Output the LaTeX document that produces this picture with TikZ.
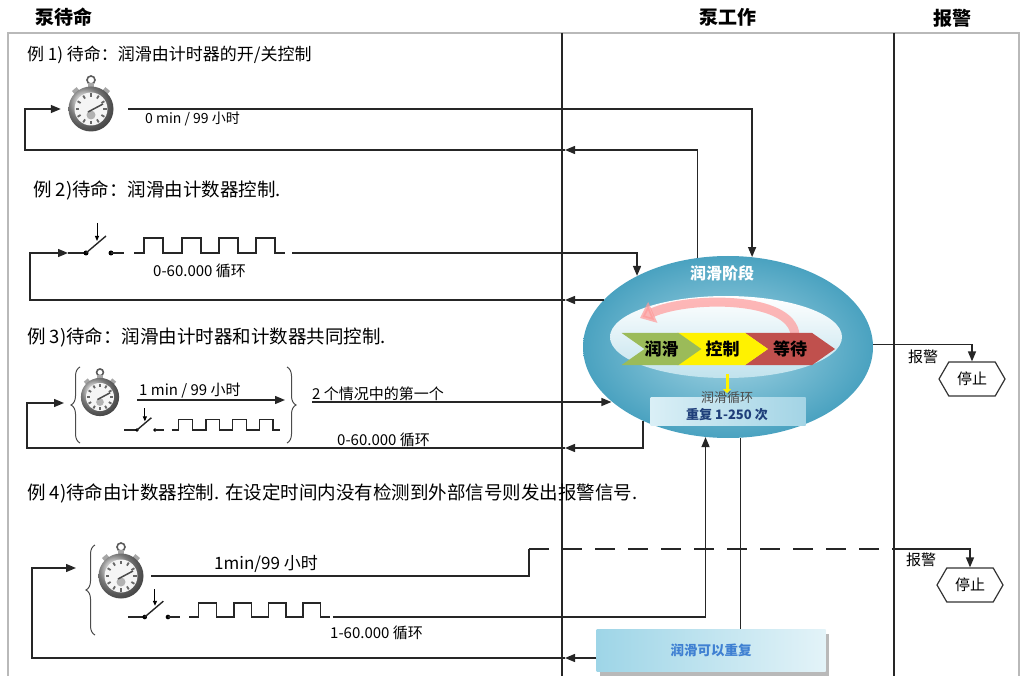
\documentclass[tikz,border=0pt]{standalone}
\usepackage{fontspec}
\setmainfont{Noto Sans CJK SC}
\usetikzlibrary{arrows.meta,shapes.geometric,shapes.symbols,decorations.pathreplacing,shadows}

\definecolor{phaseout}{HTML}{4AA2C0}
\definecolor{phasein}{HTML}{A6D6E5}
\definecolor{lubegreen}{HTML}{9BBB59}
\definecolor{waitred}{HTML}{C0504D}
\definecolor{cyclelight}{HTML}{DAEFF6}
\definecolor{cycledark}{HTML}{A3D4E5}
\definecolor{cycleblue}{HTML}{1F3F7A}
\definecolor{againblue}{HTML}{3F80D2}
\definecolor{againleft}{HTML}{9ED5E7}
\definecolor{againright}{HTML}{E3F3F8}

\newcommand{\txtsize}[1]{\fontsize{#1}{#1}\selectfont}

\begin{document}
\begin{tikzpicture}[x=1pt,y=-1pt,>={Triangle[length=10pt,width=8pt]},
  wire/.style={line width=1.4pt, draw=black!85},
  lanehead/.style={font=\bfseries\txtsize{19}},
  casetext/.style={anchor=west, inner sep=0pt, font=\txtsize{18.5}},
  labeltext/.style={anchor=west, inner sep=0pt, font=\txtsize{14}},
  curly/.style={decorate, decoration={brace, amplitude=9pt}, line width=1pt, draw=black!70},
  chevron/.style={signal, signal to=east, signal from=west, signal pointer angle=70,
    minimum height=32pt, inner sep=0pt, font=\bfseries\txtsize{17}},
  stopbox/.style={signal, signal to=east and west, signal pointer angle=120, draw=black!80,
    line width=1.2pt, minimum width=66pt, minimum height=34pt, inner sep=0pt, font=\txtsize{15}},
  repeatbox/.style={minimum width=229pt, minimum height=42pt, left color=againleft, right color=againright,
    text=againblue, font=\bfseries\txtsize{13.5},
    drop shadow={shadow xshift=3pt, shadow yshift=-5pt, fill=gray!55, opacity=1}},
  watch/.pic={
    \draw[gray!70!black, line width=1.6pt] (0,-29) circle (4);
    \fill[gray!70] (-3,-26) rectangle (3,-20);
    \fill[gray!70, rotate=40] (-3,-26) rectangle (3,-20);
    \fill[gray!70, rotate=-40] (-3,-26) rectangle (3,-20);
    \shade[ball color=gray!65] (0,0) circle (22.5);
    \fill[white!92!gray] (0,0) circle (16.5);
    \foreach \a in {0,30,...,330}
      \draw[gray!80!black, line width=1.8pt] (\a:12) -- (\a:15.5);
    \fill[gray!60] (0,6) circle (4.5);
    \draw[black!70, line width=1.5pt] (-3,3) -- (12,-5);
    \node[circle, minimum size=44pt, inner sep=0pt] (-c) {};
  },
  counter/.pic={
    \draw[wire] (0,0) -- (18,0);
    \fill (18,0) circle (2.5);
    \draw[wire] (18,0) -- (38,-17);
    \draw[line width=1pt, -{Triangle[length=5pt,width=4pt]}] (29,-30) -- (29,-12);
    \fill (43,0) circle (2.5);
    \draw[wire] (43,0) -- (56,0);
    \draw[wire] (66,0) \foreach \p in {76,114,151,188} {-- (\p,0) -- (\p,-15) -- (\p+19,-15) -- (\p+19,0)} -- (217,0);
    \coordinate (-in) at (0,0);
    \coordinate (-out) at (217,0);
  }]
\useasboundingbox (0,0) rectangle (1023,676);

% swim lanes
\node[lanehead] (standby) at (64,17) {泵待命};
\node[lanehead] (running) at (728,17) {泵工作};
\node[lanehead] (alarm) at (952,18) {报警};
\draw[gray!55, line width=1.5pt] (8,690) |- (1019,33) -- (1019,690);
\draw[wire] (562,33) -- (562,690);
\draw[wire] (894,33) -- (894,690);

% lubrication phase
\node[ellipse, minimum width=290pt, minimum height=182pt, inner color=phasein, outer color=phaseout] (phase) at (728,347) {};
\node[ellipse, minimum width=232pt, minimum height=82pt, top color=white, bottom color=phasein!70] (core) at (726,337) {};
\node[font=\bfseries\txtsize{16}, text=white] (phasename) at (722,273) {润滑阶段};
\draw[line width=9pt, draw=red!40, opacity=.7, -{Triangle[length=14pt,width=22pt]}] (795,335) .. controls (792,296) and (690,296) .. (640,318);
\node[chevron, fill=waitred, minimum width=90pt] (wait) at (790,349) {等待};
\node[chevron, fill=yellow, minimum width=91pt] (ctrl) at (722.5,349) {控制};
\node[chevron, fill=lubegreen, minimum width=77pt] (lube) at (661.5,349) {润滑};
\node[minimum width=155pt, minimum height=28pt, left color=cyclelight, right color=cycledark] (cycle) at (728,411) {};
\draw[yellow, line width=3pt, -{Triangle[length=4pt,width=8pt]}] (727,374) -- (727,393);
\node[font=\txtsize{13}, text=black!70] (cyclename) at (727,398) {润滑循环};
\node[font=\bfseries\txtsize{13}, text=cycleblue] (cyclecount) at (727,415) {重复 1-250 次};

% alarm
\node[stopbox] (stop1) at (972,379) {停止};
\node[stopbox] (stop2) at (970,585) {停止};
\node[labeltext, font=\txtsize{15}] (alarm1) at (908,357) {报警};
\node[labeltext, font=\txtsize{15}] (alarm2) at (906,560) {报警};
\draw[wire,->] (phase.1) -| (stop1.north);

% example 1
\node[casetext, font=\txtsize{17}] (case1) at (27,55) {例 1) 待命：润滑由计时器的开/关控制};
\pic (clock1) at (91,109) {watch};
\node[labeltext, anchor=north west] (t1) at (145,112) {0 min / 99 小时};
\coordinate (back1) at (565,150);
\draw[wire,->] ([xshift=15pt]clock1-c.east) -| (phase.75);
\draw[wire,->] (phase.109) |- (back1);
\draw[wire,->] (back1) -| (25,109) -- ([xshift=-8pt]clock1-c.west);

% example 2
\node[casetext] (case2) at (33,190) {例 2)待命：润滑由计数器控制.};
\pic (count2) at (68,253) {counter};
\node[labeltext, font=\txtsize{15}] (t2) at (153,271) {0-60.000 循环};
\coordinate (back2) at (565,300);
\draw[wire,->] ([xshift=7pt]count2-out) -| (phase.142);
\draw[wire,->] (back2 -| phase.159) -- (back2);
\draw[wire,->] (back2) -| (30,253) -- (count2-in);

% example 3
\node[casetext] (case3) at (27,337) {例 3)待命：润滑由计时器和计数器共同控制.};
\pic[scale=.85] (clock3) at (100,397) {watch};
\pic[scale=.72] (count3) at (124,430) {counter};
\draw[curly] (80,443) -- (80,367);
\draw[curly] (287,367) -- (287,443);
\coordinate (in3) at (64,403);
\coordinate (timer3) at (137,400);
\coordinate (brace3) at (285,400);
\node[labeltext, font=\txtsize{15}, anchor=south west] (t3) at (139,398) {1 min / 99 小时};
\draw[wire,->] (timer3) -- (brace3);
\node[labeltext, font=\txtsize{15}, anchor=south west] (first3) at (312,401) {2 个情况中的第一个};
\draw[wire,->] ([yshift=-1pt]first3.south west) -- ([yshift=-1pt]first3.south west -| phase.205);
\node[labeltext, font=\txtsize{15}] (t3b) at (337,440) {0-60.000 循环};
\coordinate (back3) at (565,448);
\draw[wire,->] (phase.221) |- (back3);
\draw[wire,->] (back3) -| (27,403) -- (in3);

% example 4
\node[casetext] (case4) at (27,493) {例 4)待命由计数器控制. 在设定时间内没有检测到外部信号则发出报警信号.};
\pic (clock4) at (121,576) {watch};
\pic[scale=.93] (count4) at (128,617) {counter};
\draw[curly] (95,635) -- (95,545);
\coordinate (in4) at (76,568);
\node[labeltext, font=\txtsize{17}, anchor=south west] (t4) at (214,573) {1min/99 小时};
\coordinate (rise4) at (529,549);
\coordinate (alarm4) at (893,549);
\draw[wire] ([xshift=8pt]clock4-c.east) -| (rise4);
\draw[wire, line width=2pt, dash pattern=on 20pt off 13pt] (rise4) -- (alarm4);
\draw[wire,->] (alarm4) -| (stop2.north);
\node[labeltext, font=\txtsize{15}] (t4b) at (330,633) {1-60.000 循环};
\draw[wire,->] ([xshift=3pt]count4-out) -| (phase.256);
\node[repeatbox] (again) at (711,650) {润滑可以重复};
\draw[wire] (phase.278) -- (phase.278 |- again.north);
\coordinate (back4) at (565,658);
\draw[wire,->] (back4 -| again.west) -- (back4);
\draw[wire,->] (back4) -| (32,568) -- (in4);

\end{tikzpicture}
\end{document}
